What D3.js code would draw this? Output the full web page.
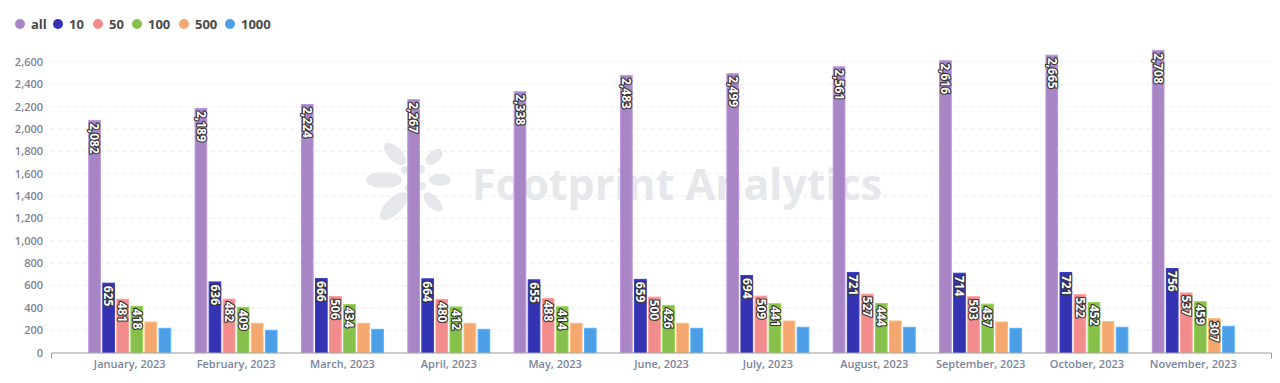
<!DOCTYPE html>
<html>
<head>
<meta charset="utf-8">
<script src="https://cdn.jsdelivr.net/npm/d3@7"></script>
<style>
  body { margin: 0; background: #fff; }
  #chart { width: 1280px; height: 383px; }
  text { font-family: "Open Sans", "Noto Sans", sans-serif; }
</style>
</head>
<body>
<div id="chart"></div>
<script>
// data
const months = ["January, 2023", "February, 2023", "March, 2023", "April, 2023", "May, 2023", "June, 2023",
                "July, 2023", "August, 2023", "September, 2023", "October, 2023", "November, 2023"];
const seriesKeys = ["all", "10", "50", "100", "500", "1000"];
const seriesColors = ["#a886c6", "#3434b2", "#f28b8b", "#86bf4a", "#f4a76e", "#4c9fe6"];
const allValues  = [2082, 2189, 2224, 2267, 2338, 2483, 2499, 2561, 2616, 2665, 2708];
const v10        = [625, 636, 666, 664, 655, 659, 694, 721, 714, 721, 756];
const v50        = [481, 482, 506, 480, 488, 500, 509, 527, 503, 522, 537];
const v100       = [418, 409, 434, 412, 414, 426, 441, 444, 437, 452, 459];
const v500       = [277, 266, 266, 266, 266, 266, 286, 286, 277, 281, 307];
const v1000      = [221, 203, 212, 212, 221, 221, 230, 230, 221, 230, 239];
const yTicks = [0, 200, 400, 600, 800, 1000, 1200, 1400, 1600, 1800, 2000, 2200, 2400, 2600];

const seriesValues = [allValues, v10, v50, v100, v500, v1000];

const W = 1280, H = 383;
const margin = {top: 62, right: 8, bottom: 30, left: 51};
const width = W - margin.left - margin.right;
const height = 352.5 - margin.top;

const svg = d3.select("#chart").append("svg")
    .attr("width", W)
    .attr("height", H);

// watermark, drawn behind everything
const wm = svg.append("g").attr("fill", "#e6e7ea");
wm.append("text")
    .attr("x", 472).attr("y", 200)
    .attr("font-size", 43).attr("font-weight", 700)
    .attr("font-family", "'Open Sans', sans-serif")
    .text("Footprint Analytics");
const petals = [
    [-30, 0, 18, 8, 0], [-19, -26, 14, 7, 45], [0, -34, 6, 11, 0], [20, -23, 10, 6, -40],
    [26, 0, 11, 6, 0], [19, 22, 12, 6, 45], [0, 33, 6, 13, 0], [-20, 26, 18, 8, -45],
    [-9, -10, 4, 4, 0], [7, -11, 4, 4, 0], [8, 6, 4, 4, 0], [-5, 8, 4, 4, 0], [0, -1, 4, 4, 0]
];
wm.selectAll("ellipse").data(petals).enter().append("ellipse")
    .attr("transform", d => "translate(" + (414 + d[0]) + "," + (180 + d[1]) + ") rotate(" + d[4] + ")")
    .attr("rx", d => d[2]).attr("ry", d => d[3]);

const g = svg.append("g").attr("transform", "translate(" + margin.left + "," + margin.top + ")");

const x0 = d3.scaleBand()
    .domain(months)
    .range([0, width])
    .paddingInner(0.22)
    .paddingOuter(0.35);

const x1 = d3.scaleBand()
    .domain(seriesKeys)
    .range([0, x0.bandwidth()])
    .paddingInner(0.1);

const y = d3.scaleLinear()
    .domain([0, 2600])
    .range([height, 0]);

const color = d3.scaleOrdinal().domain(seriesKeys).range(seriesColors);

// gridlines
g.append("g")
  .selectAll("line")
  .data(yTicks.filter(t => t > 0))
  .enter().append("line")
    .attr("x1", 0).attr("x2", width)
    .attr("y1", d => y(d)).attr("y2", d => y(d))
    .attr("stroke", "#ececec")
    .attr("stroke-dasharray", "4,4");

// y axis labels
const yAxis = g.append("g")
    .call(d3.axisLeft(y).tickValues(yTicks).tickSize(0).tickPadding(8).tickFormat(d3.format(",")));
yAxis.select(".domain").remove();
yAxis.selectAll("text")
    .attr("fill", "#7d8190")
    .attr("font-size", 11)
    .attr("font-weight", 600)
    .attr("font-family", "'Open Sans', sans-serif");

// bars
const rows = months.map((m, i) => ({
    month: m,
    items: seriesKeys.map((k, j) => ({key: k, value: seriesValues[j][i]}))
}));

const groups = g.append("g")
  .selectAll("g")
  .data(rows)
  .enter().append("g")
    .attr("transform", d => "translate(" + x0(d.month) + ",0)");

groups.selectAll("rect")
  .data(d => d.items)
  .enter().append("rect")
    .attr("x", d => x1(d.key) + 0.5)
    .attr("y", d => y(d.value) + 0.5)
    .attr("width", x1.bandwidth() - 1)
    .attr("height", d => height - y(d.value) - 0.5)
    .attr("fill", d => color(d.key))
    .attr("stroke", d => d3.color(color(d.key)).brighter(0.3))
    .attr("stroke-width", 1);

// value labels, rotated, only where the bar is tall enough
groups.selectAll("text.val")
  .data(d => d.items.filter(it => it.value >= 300))
  .enter().append("text")
    .attr("class", "val")
    .attr("transform", d => "translate(" + (x1(d.key) + x1.bandwidth() / 2) + "," + (y(d.value) + 3) + ") rotate(90)")
    .attr("dy", "0.35em")
    .attr("text-anchor", "start")
    .attr("font-size", 12)
    .attr("font-weight", 700)
    .attr("fill", "#fff")
    .attr("stroke", "#333")
    .attr("stroke-width", 2.2)
    .attr("stroke-linejoin", "round")
    .attr("paint-order", "stroke")
    .text(d => d3.format(",")(d.value));

// x axis
const xAxis = g.append("g")
    .attr("transform", "translate(0," + height + ")")
    .call(d3.axisBottom(x0).tickSize(0).tickPadding(8));
xAxis.select(".domain")
    .attr("stroke", "#9a9a9a")
    .attr("d", "M0.5,6V0.5H" + (width - 0.5) + "V6");
xAxis.selectAll("text")
    .attr("fill", "#7a859b")
    .attr("font-size", 11)
    .attr("font-weight", 600)
    .attr("font-family", "'Open Sans', sans-serif");

// legend
const legendX = [20, 58, 98, 137, 184, 230];
const legend = svg.append("g")
  .selectAll("g")
  .data(seriesKeys)
  .enter().append("g")
    .attr("transform", (d, i) => "translate(" + legendX[i] + ",24)");
legend.append("circle")
    .attr("r", 5)
    .attr("fill", d => color(d));
legend.append("text")
    .attr("x", 11)
    .attr("dy", "0.35em")
    .attr("font-size", 13)
    .attr("font-weight", 700)
    .attr("fill", "#4a4a4a")
    .text(d => d);
</script>
</body>
</html>
